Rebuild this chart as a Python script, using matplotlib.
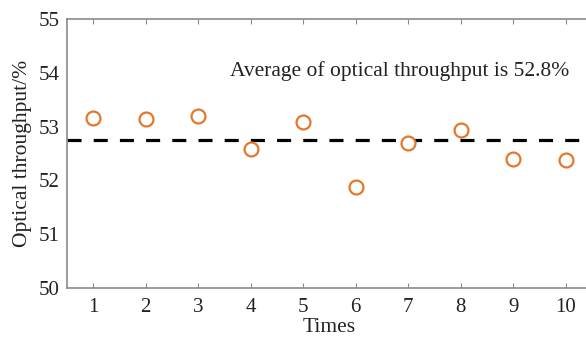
import numpy as np
import matplotlib.pyplot as plt

# 光通量数据
times = [1, 2, 3, 4, 5, 6, 7, 8, 9, 10]
throughput = [53.16, 53.14, 53.20, 52.59, 53.09, 51.87, 52.70, 52.94, 52.39, 52.37]
mean_line = 52.75
note = 'Average of optical throughput is 52.8%'

plt.rcParams['font.family'] = ['Liberation Serif', 'DejaVu Serif']

fig = plt.figure(figsize=(5.86, 3.39), dpi=100)
# 右边被裁掉了，所以坐标区超出画布
ax = fig.add_axes([67 / 586, 1 - 288 / 339, 525 / 586, 269 / 339])

ax.axhline(mean_line, color='black', lw=2.3, dashes=(4.4, 3.8), zorder=2)
ax.plot(times, throughput, 'o', ms=10, mfc='white', mec='#E3782B', mew=1.6, zorder=3)

ax.text(6.83, 54.03, note, ha='center', va='center', fontsize=15.5, color='#222222')

ax.set_xlim(0.5, 10.5)
ax.set_ylim(50, 55)
ax.set_xticks(times)
ax.set_yticks(np.arange(50, 56, 1))

for s in ax.spines.values():
    s.set_color('#8a8a8a')
    s.set_linewidth(1.2)
ax.tick_params(axis='x', direction='in', top=True, length=3.5, color='#8a8a8a',
               labelsize=15, labelcolor='#222222', pad=7)
ax.tick_params(axis='y', length=0, labelsize=15, labelcolor='#222222', pad=5)

ax.set_xlabel('Times', fontsize=15.5, color='#222222', labelpad=1)
ax.set_ylabel('Optical throughput/%', fontsize=15.5, color='#222222', labelpad=5)

plt.savefig('out.png', dpi=100)
